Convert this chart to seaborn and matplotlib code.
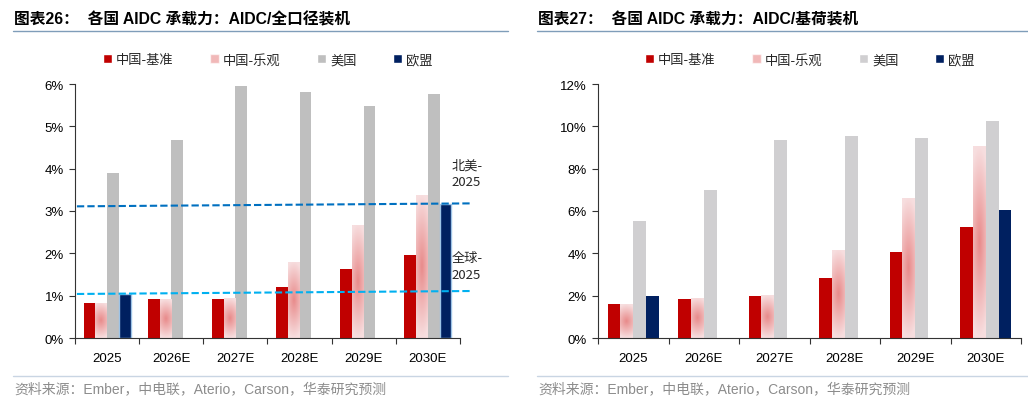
import numpy as np
import pandas as pd
import matplotlib
matplotlib.use("Agg")
import matplotlib.pyplot as plt
import seaborn as sns
from matplotlib.lines import Line2D
from matplotlib.patches import Patch
from matplotlib.colors import to_rgb

# ---------------- data ----------------
years = ["2025", "2026E", "2027E", "2028E", "2029E", "2030E"]
series = ["中国-基准", "中国-乐观", "美国", "欧盟"]

# Chart 26: AIDC / total installed capacity (%)
left_cn_base = [0.82, 0.91, 0.92, 1.21, 1.62, 1.95]
left_cn_opt = [0.83, 0.92, 0.94, 1.80, 2.67, 3.38]
left_us = [3.90, 4.67, 5.95, 5.80, 5.47, 5.76]
left_eu = [1.04, np.nan, np.nan, np.nan, np.nan, 3.17]
na_2025_line = [3.11, 3.18]
global_2025_line = [1.04, 1.11]

# Chart 27: AIDC / base-load installed capacity (%)
right_cn_base = [1.59, 1.86, 2.00, 2.82, 4.05, 5.24]
right_cn_opt = [1.59, 1.89, 2.03, 4.16, 6.63, 9.07]
right_us = [5.51, 6.98, 9.35, 9.56, 9.43, 10.27]
right_eu = [2.00, np.nan, np.nan, np.nan, np.nan, 6.03]

left_title = "图表26：  各国 AIDC 承载力：AIDC/全口径装机"
right_title = "图表27：  各国 AIDC 承载力：AIDC/基荷装机"
source_text = "资料来源：Ember，中电联，Aterio，Carson，华泰研究预测"

RED = "#C00000"
PINK = "#F2C4C6"
PINK_CENTER = "#E88A8A"
PINK_EDGE = "#F7DEDF"
NAVY = "#002060"
GRAY_L = "#BFBFBF"
GRAY_R = "#D0CFD1"

sns.set_theme(style="white")
plt.rcParams["font.family"] = ["Liberation Sans", "Noto Sans CJK SC", "DejaVu Sans"]
plt.rcParams["axes.unicode_minus"] = False

W, H = 1028, 406
fig = plt.figure(figsize=(W / 100, H / 100), dpi=100)


def fx(px):
    return px / W


def fy(py):
    return 1 - py / H


def make_df(base, opt, us, eu):
    rows = []
    for name, vals in zip(series, [base, opt, us, eu]):
        for y, v in zip(years, vals):
            rows.append({"year": y, "series": name, "value": v})
    return pd.DataFrame(rows)


def gradient_image():
    ny, nx = 200, 40
    yy = np.linspace(-1, 1, ny)[:, None]
    xx = np.linspace(-1, 1, nx)[None, :]
    t = np.sqrt(yy ** 2 + 0.25 * xx ** 2)
    t = np.clip(t, 0, 1)
    c0 = np.array(to_rgb(PINK_CENTER))
    c1 = np.array(to_rgb(PINK_EDGE))
    img = c0[None, None, :] * (1 - t[..., None]) + c1[None, None, :] * t[..., None]
    return img


def draw_chart(ax, df, gray, ymax, eu_edge):
    palette = {series[0]: RED, series[1]: PINK, series[2]: gray, series[3]: NAVY}
    sns.barplot(data=df, x="year", y="value", hue="series", order=years,
                hue_order=series, palette=palette, width=0.73, dodge=True,
                errorbar=None, legend=False, ax=ax, linewidth=0, saturation=1)
    img = gradient_image()
    pink_rgb = np.array(to_rgb(PINK))
    for p in list(ax.patches):
        fc = np.array(p.get_facecolor()[:3])
        h = p.get_height()
        if np.isnan(h) or h == 0:
            continue
        if np.allclose(fc, pink_rgb, atol=0.01):
            x0 = p.get_x()
            w = p.get_width()
            im = ax.imshow(img, extent=[x0, x0 + w, 0, h], aspect="auto",
                           origin="lower", zorder=p.get_zorder() + 0.1,
                           interpolation="bilinear")
            im.set_clip_path(p)
            p.set_facecolor("none")
        if eu_edge and np.allclose(fc, np.array(to_rgb(NAVY)), atol=0.01):
            p.set_edgecolor("#9DC3E6")
            p.set_linewidth(1.0)
    ax.set_xlim(-0.5, 5.5)
    ax.set_ylim(0, ymax)
    ax.set_xlabel("")
    ax.set_ylabel("")
    # ticks at category boundaries, labels at centers
    ax.set_xticks(np.arange(-0.5, 6, 1))
    ax.set_xticklabels([])
    ax.set_xticks(np.arange(0, 6), minor=True)
    ax.set_xticklabels(years, minor=True)
    ax.tick_params(axis="x", which="major", direction="out", length=4,
                   width=0.8, color="#333333", bottom=True)
    ax.tick_params(axis="x", which="minor", length=0, pad=10, labelsize=9.5,
                   labelcolor="black")
    step = 1 if ymax <= 6 else 2
    yt = np.arange(0, ymax + 0.01, step)
    ax.set_yticks(yt)
    ax.set_yticklabels([f"{int(v)}%" for v in yt])
    ax.tick_params(axis="y", direction="out", length=4, width=0.8,
                   color="#333333", left=True, labelsize=9.5, labelcolor="black",
                   pad=4)
    for s in ["top", "right"]:
        ax.spines[s].set_visible(False)
    for s in ["left", "bottom"]:
        ax.spines[s].set_color("#333333")
        ax.spines[s].set_linewidth(0.8)
    ax.grid(False)
    handles = [Patch(facecolor=RED), Patch(facecolor=PINK_CENTER, alpha=0.6),
               Patch(facecolor=gray), Patch(facecolor=NAVY)]
    leg = ax.legend(handles, series, loc="center", ncol=4,
                    bbox_to_anchor=(0.5, 1.095), frameon=False,
                    handlelength=0.7, handleheight=0.7, handletextpad=0.3,
                    columnspacing=2.75, fontsize=9.5)
    for t in leg.get_texts():
        t.set_family(["Noto Sans CJK SC", "DejaVu Sans"])


# left chart
axL = fig.add_axes([fx(75), fy(339), fx(460) - fx(75), fy(85) - fy(339)])
draw_chart(axL, make_df(left_cn_base, left_cn_opt, left_us, left_eu),
           GRAY_L, 6, True)
line_x = [-0.47, 5.68]
axL.plot(line_x, na_2025_line, color="#0070C0", lw=1.5, ls=(0, (3.5, 1.5)),
         clip_on=False, zorder=5)
axL.plot(line_x, global_2025_line, color="#00B0F0", lw=1.5, ls=(0, (3.5, 1.5)),
         clip_on=False, zorder=5)
axL.text(5.37, 3.9, "北美-\n2025", fontsize=9.5, ha="left", va="center",
         linespacing=1.35, family=["Noto Sans CJK SC", "Liberation Sans"],
         clip_on=False)
axL.text(5.37, 1.7, "全球-\n2025", fontsize=9.5, ha="left", va="center",
         linespacing=1.35, family=["Noto Sans CJK SC", "Liberation Sans"],
         clip_on=False)

# right chart
axR = fig.add_axes([fx(598), fy(339), fx(1021) - fx(598), fy(85) - fy(339)])
draw_chart(axR, make_df(right_cn_base, right_cn_opt, right_us, right_eu),
           GRAY_R, 12, False)

# titles, rules, sources
for x0, x1, title in [(13, 508, left_title), (537, 1028, right_title)]:
    fig.text(fx(x0 + 1), fy(20), title, fontsize=11.3, fontweight="bold",
             ha="left", va="center", color="black",
             family=["Liberation Sans", "Noto Sans CJK SC"])
    fig.add_artist(Line2D([fx(x0), fx(x1)], [fy(32), fy(32)],
                          color="#7F9DB9", lw=1.0))
    fig.add_artist(Line2D([fx(x0), fx(x1)], [fy(377), fy(377)],
                          color="#C9D5E3", lw=1.0))
    fig.text(fx(x0 + 1), fy(389), source_text, fontsize=10, ha="left",
             va="center", color="#8C8C8C",
             family=["Liberation Sans", "Noto Sans CJK SC"])

fig.savefig("out.png", dpi=100)
